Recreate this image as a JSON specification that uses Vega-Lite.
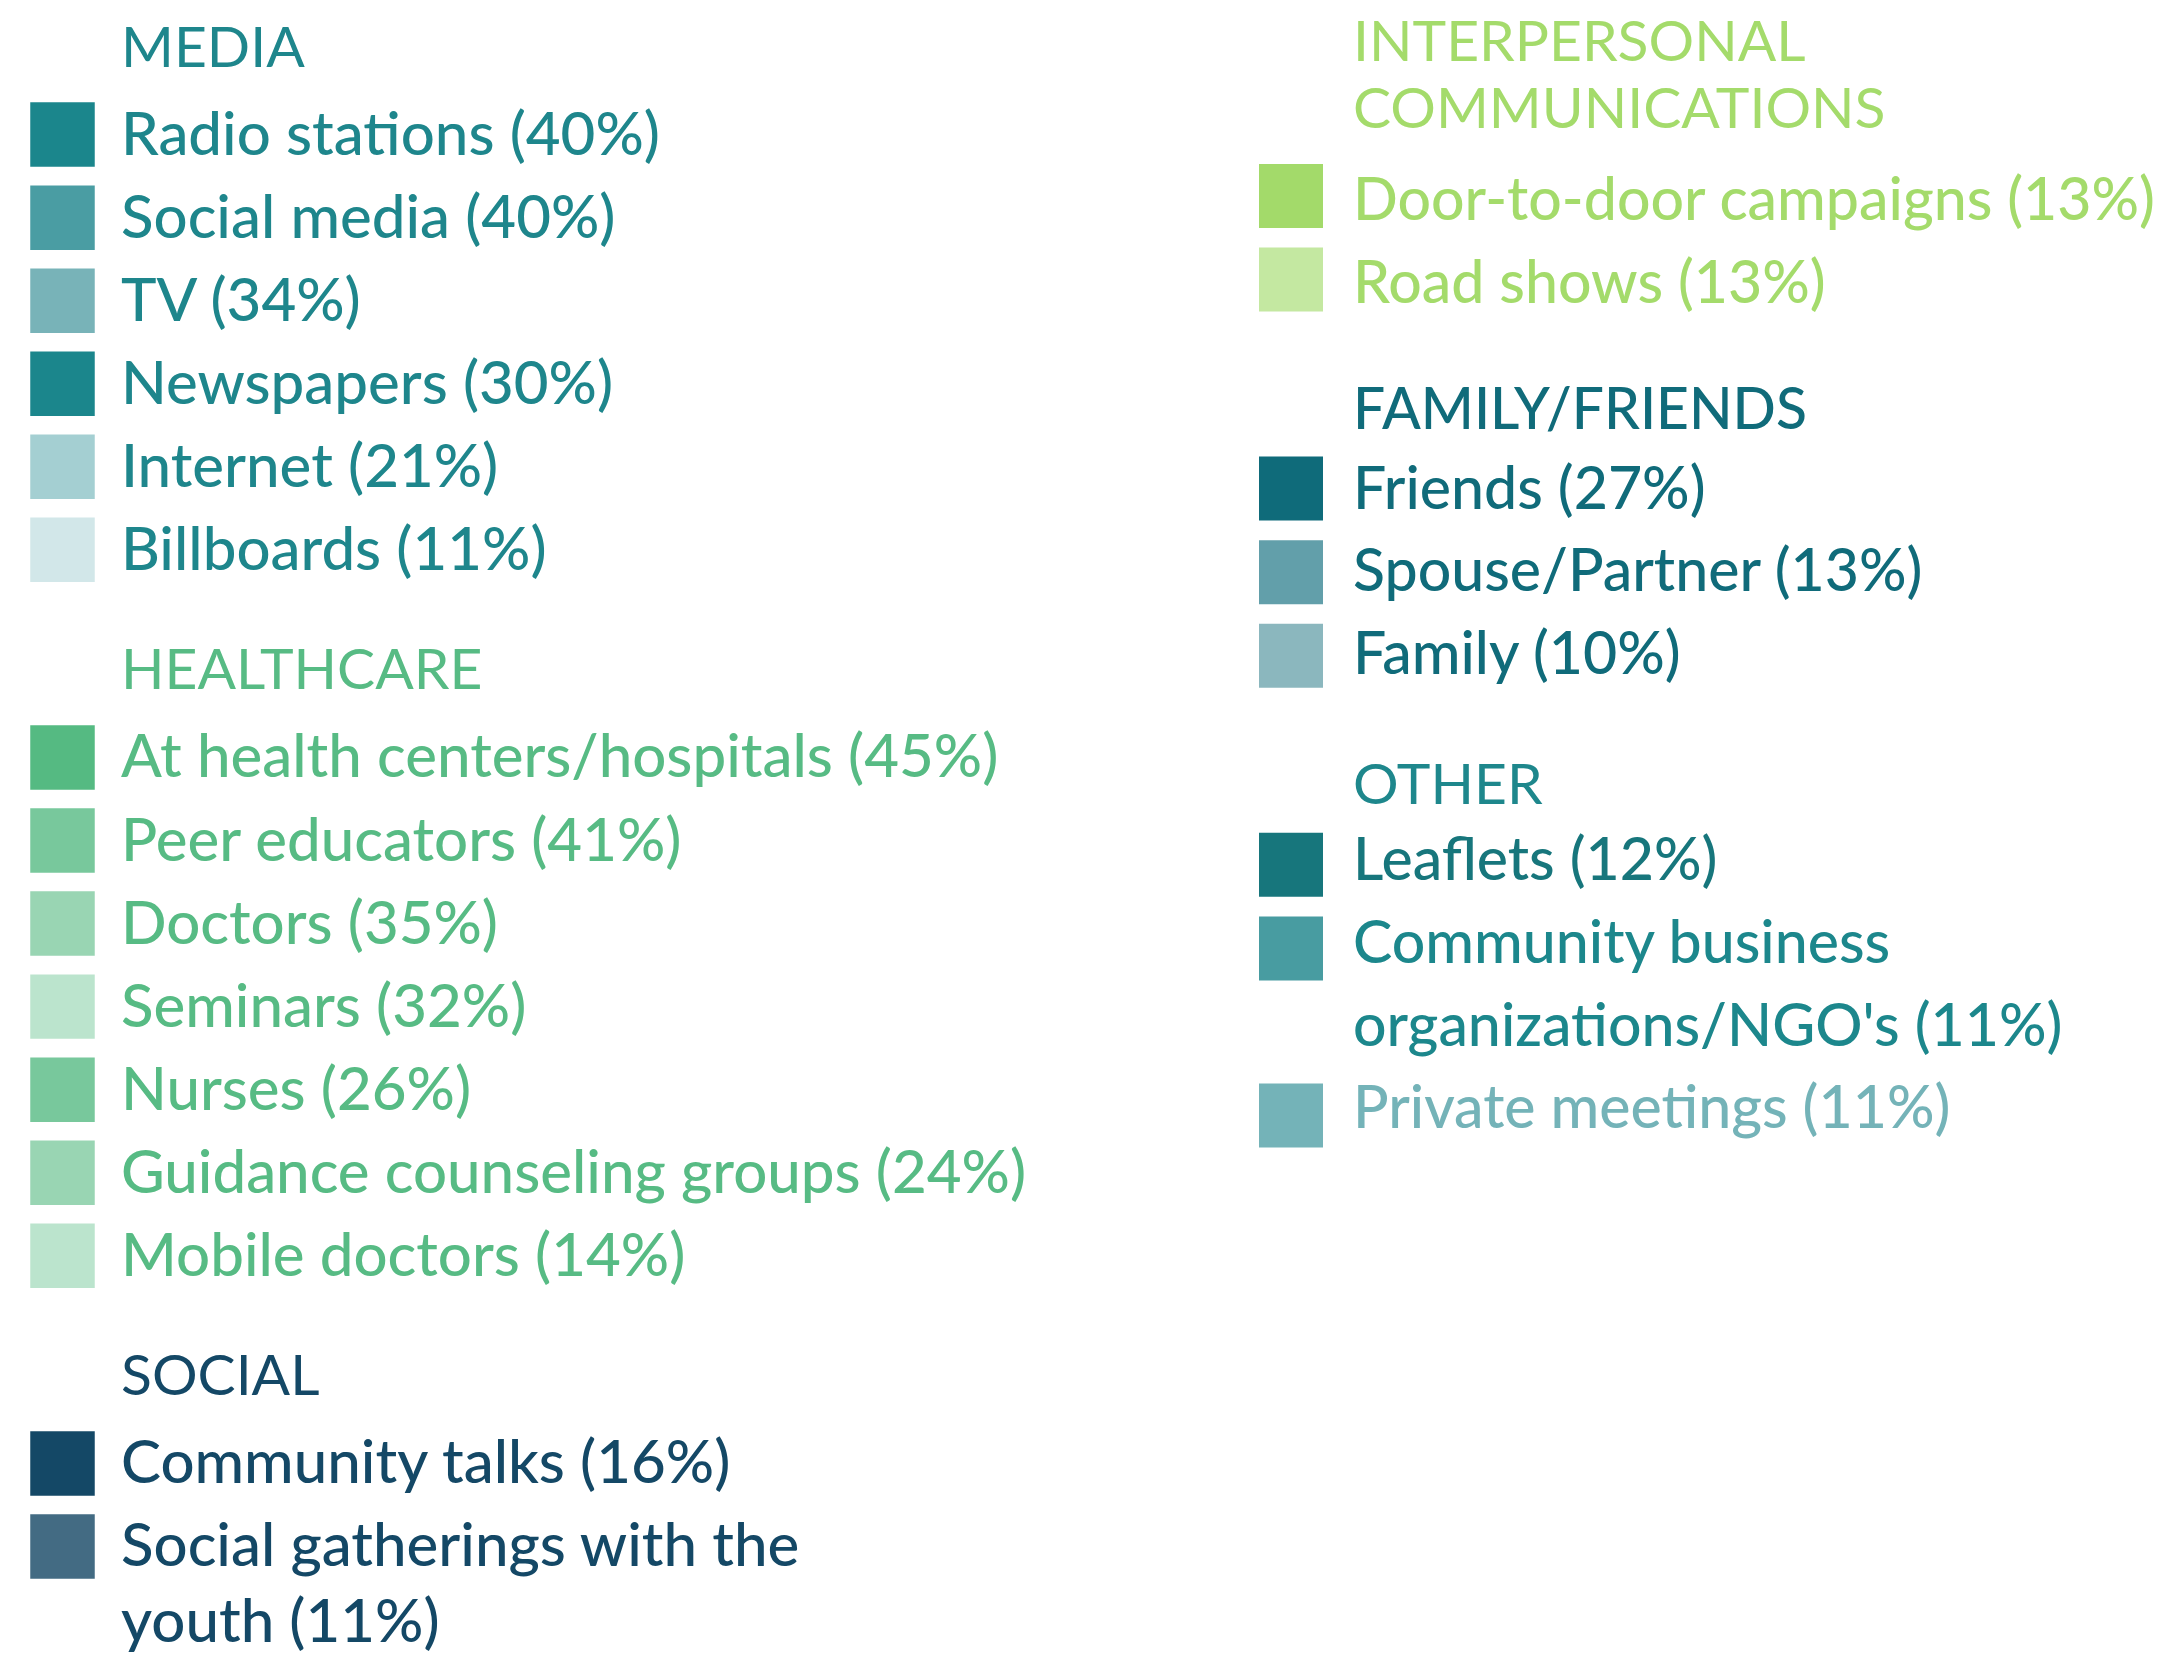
{
  "$schema": "https://vega.github.io/schema/vega-lite/v6.json",
  "width": 2163,
  "height": 1656,
  "autosize": {"type": "fit", "contains": "padding"},
  "padding": 0,
  "background": "white",
  "config": {"view": {"stroke": null}},
  "data": {"values": [
    {"col": 0, "line": 0, "kind": "heading", "name": "MEDIA", "label": "MEDIA"},
    {"col": 0, "line": 1, "kind": "item", "name": "Radio stations", "pct": 40, "label": "Radio stations (40%)"},
    {"col": 0, "line": 2, "kind": "item", "name": "Social media", "pct": 40, "label": "Social media (40%)"},
    {"col": 0, "line": 3, "kind": "item", "name": "TV", "pct": 34, "label": "TV (34%)"},
    {"col": 0, "line": 4, "kind": "item", "name": "Newspapers", "pct": 30, "label": "Newspapers (30%)"},
    {"col": 0, "line": 5, "kind": "item", "name": "Internet", "pct": 21, "label": "Internet (21%)"},
    {"col": 0, "line": 6, "kind": "item", "name": "Billboards", "pct": 11, "label": "Billboards (11%)"},
    {"col": 0, "line": 7.5, "kind": "heading", "name": "HEALTHCARE", "label": "HEALTHCARE"},
    {"col": 0, "line": 8.5, "kind": "item", "name": "At health centers/hospitals", "pct": 45, "label": "At health centers/hospitals (45%)"},
    {"col": 0, "line": 9.5, "kind": "item", "name": "Peer educators", "pct": 41, "label": "Peer educators (41%)"},
    {"col": 0, "line": 10.5, "kind": "item", "name": "Doctors", "pct": 35, "label": "Doctors (35%)"},
    {"col": 0, "line": 11.5, "kind": "item", "name": "Seminars", "pct": 32, "label": "Seminars (32%)"},
    {"col": 0, "line": 12.5, "kind": "item", "name": "Nurses", "pct": 26, "label": "Nurses (26%)"},
    {"col": 0, "line": 13.5, "kind": "item", "name": "Guidance counseling groups", "pct": 24, "label": "Guidance counseling groups (24%)"},
    {"col": 0, "line": 14.5, "kind": "item", "name": "Mobile doctors", "pct": 14, "label": "Mobile doctors (14%)"},
    {"col": 0, "line": 16, "kind": "heading", "name": "SOCIAL", "label": "SOCIAL"},
    {"col": 0, "line": 17, "kind": "item", "name": "Community talks", "pct": 16, "label": "Community talks (16%)"},
    {"col": 0, "line": 18, "kind": "item", "name": "Social gatherings with the youth", "pct": 11, "label": "Social gatherings with the\nyouth (11%)"},
    {"col": 1, "line": 0, "kind": "heading", "name": "INTERPERSONAL COMMUNICATIONS", "label": "INTERPERSONAL\nCOMMUNICATIONS"},
    {"col": 1, "line": 2, "kind": "item", "name": "Door-to-door campaigns", "pct": 13, "label": "Door-to-door campaigns (13%)"},
    {"col": 1, "line": 3, "kind": "item", "name": "Road shows", "pct": 13, "label": "Road shows (13%)"},
    {"col": 1, "line": 4.5, "kind": "heading", "name": "FAMILY/FRIENDS", "label": "FAMILY/FRIENDS"},
    {"col": 1, "line": 5.5, "kind": "item", "name": "Friends", "pct": 27, "label": "Friends (27%)"},
    {"col": 1, "line": 6.5, "kind": "item", "name": "Spouse/Partner", "pct": 13, "label": "Spouse/Partner (13%)"},
    {"col": 1, "line": 7.5, "kind": "item", "name": "Family", "pct": 10, "label": "Family (10%)"},
    {"col": 1, "line": 9, "kind": "heading", "name": "OTHER", "label": "OTHER"},
    {"col": 1, "line": 10, "kind": "item", "name": "Leaflets", "pct": 12, "label": "Leaflets (12%)"},
    {"col": 1, "line": 11, "kind": "item", "name": "Community business organizations/NGO's", "pct": 11, "label": "Community business\norganizations/NGO's (11%)"},
    {"col": 1, "line": 13, "kind": "item", "name": "Private meetings", "pct": 11, "label": "Private meetings (11%)"}
  ]},
  "encoding": {
    "x": {"field": "col", "type": "quantitative", "axis": null,
          "scale": {"domain": [0, 1], "range": [62.5, 1291], "zero": false, "nice": false}}
  },
  "layer": [
    {
      "transform": [{"filter": "datum.kind == 'item' && datum.col == 0"}],
      "mark": {"type": "square", "size": 4160, "filled": true, "opacity": 1, "strokeWidth": 0},
      "encoding": {
        "y": {"field": "line", "type": "quantitative", "axis": null,
              "scale": {"domain": [0, 20], "range": [51.55, 1712.55], "zero": false, "nice": false}},
        "fill": {"field": "name", "type": "nominal", "legend": null,
          "scale": {
            "domain": ["Radio stations","Social media","TV","Newspapers","Internet","Billboards","At health centers/hospitals","Peer educators","Doctors","Seminars","Nurses","Guidance counseling groups","Mobile doctors","Community talks","Social gatherings with the youth","Door-to-door campaigns","Road shows","Friends","Spouse/Partner","Family","Leaflets","Community business organizations/NGO's","Private meetings"],
            "range": ["#1B868C","#4A9DA3","#78B3B8","#1B868C","#A4CFD2","#D2E7E9","#55BA82","#78C89C","#99D5B3","#BBE4CD","#78C89C","#99D5B3","#BBE4CD","#144866","#436B83","#A3DA6A","#C4E8A1","#0F6B7A","#629FAA","#8BB7BE","#17767C","#489CA1","#74B3B8"]
          }}
      }
    },
    {
      "transform": [{"filter": "datum.kind == 'item' && datum.col == 1"}],
      "mark": {"type": "square", "size": 4096, "filled": true, "opacity": 1, "strokeWidth": 0},
      "encoding": {
        "y": {"field": "line", "type": "quantitative", "axis": null,
              "scale": {"domain": [0, 20], "range": [28.8, 1700.8], "zero": false, "nice": false}},
        "fill": {"field": "name", "type": "nominal", "legend": null}
      }
    },
    {
      "transform": [{"filter": "datum.kind == 'item' && datum.col == 0"}],
      "mark": {"type": "text", "align": "left", "baseline": "alphabetic", "dx": 58.5, "dy": 20, "font": "Lato", "fontSize": 60, "fontWeight": 500, "lineBreak": "\n", "lineHeight": 76},
      "encoding": {
        "y": {"field": "line", "type": "quantitative", "axis": null,
              "scale": {"domain": [0, 20], "range": [51.55, 1712.55], "zero": false, "nice": false}},
        "text": {"field": "label"},
        "color": {"field": "name", "type": "nominal", "legend": null,
          "scale": {
            "domain": ["MEDIA","Radio stations","Social media","TV","Newspapers","Internet","Billboards","HEALTHCARE","At health centers/hospitals","Peer educators","Doctors","Seminars","Nurses","Guidance counseling groups","Mobile doctors","SOCIAL","Community talks","Social gatherings with the youth","INTERPERSONAL COMMUNICATIONS","Door-to-door campaigns","Road shows","FAMILY/FRIENDS","Friends","Spouse/Partner","Family","OTHER","Leaflets","Community business organizations/NGO's","Private meetings"],
            "range": ["#1E868C","#1E868C","#1E868C","#1E868C","#1E868C","#1E868C","#1E868C","#57BB84","#57BB84","#57BB84","#57BB84","#57BB84","#57BB84","#57BB84","#57BB84","#144866","#144866","#144866","#A4DB6B","#A4DB6B","#A4DB6B","#106B7A","#106B7A","#106B7A","#106B7A","#1E878C","#17767C","#1C878C","#74B3B8"]
          }}
      }
    },
    {
      "transform": [{"filter": "datum.kind == 'heading' && datum.col == 0"}],
      "mark": {"type": "text", "align": "left", "baseline": "alphabetic", "dx": 58.5, "dy": 15, "font": "Lato", "fontSize": 57, "fontWeight": 400, "lineBreak": "\n", "lineHeight": 67},
      "encoding": {
        "y": {"field": "line", "type": "quantitative", "axis": null,
              "scale": {"domain": [0, 20], "range": [51.55, 1712.55], "zero": false, "nice": false}},
        "text": {"field": "label"},
        "color": {"field": "name", "type": "nominal", "legend": null}
      }
    },
    {
      "transform": [{"filter": "datum.kind == 'item' && datum.col == 1"}],
      "mark": {"type": "text", "align": "left", "baseline": "alphabetic", "dx": 62, "dy": 0, "font": "Lato", "fontSize": 59, "fontWeight": 500, "lineBreak": "\n", "lineHeight": 83},
      "encoding": {
        "y": {"field": "line", "type": "quantitative", "axis": null,
              "scale": {"domain": [0, 20], "range": [55, 1705], "zero": false, "nice": false}},
        "text": {"field": "label"},
        "color": {"field": "name", "type": "nominal", "legend": null}
      }
    },
    {
      "transform": [{"filter": "datum.kind == 'heading' && datum.col == 1 && datum.name != 'FAMILY/FRIENDS'"}],
      "mark": {"type": "text", "align": "left", "baseline": "alphabetic", "dx": 62, "dy": 6, "font": "Lato", "fontSize": 57, "fontWeight": 400, "lineBreak": "\n", "lineHeight": 67},
      "encoding": {
        "y": {"field": "line", "type": "quantitative", "axis": null,
              "scale": {"domain": [0, 20], "range": [55, 1705], "zero": false, "nice": false}},
        "text": {"field": "label"},
        "color": {"field": "name", "type": "nominal", "legend": null}
      }
    },
    {
      "transform": [{"filter": "datum.name == 'FAMILY/FRIENDS'"}],
      "mark": {"type": "text", "align": "left", "baseline": "alphabetic", "dx": 62, "dy": 3, "font": "Lato", "fontSize": 57, "fontWeight": 500},
      "encoding": {
        "y": {"field": "line", "type": "quantitative", "axis": null,
              "scale": {"domain": [0, 20], "range": [55, 1705], "zero": false, "nice": false}},
        "text": {"field": "label"},
        "color": {"field": "name", "type": "nominal", "legend": null}
      }
    }
  ],
  "resolve": {"scale": {"y": "independent"}}
}
